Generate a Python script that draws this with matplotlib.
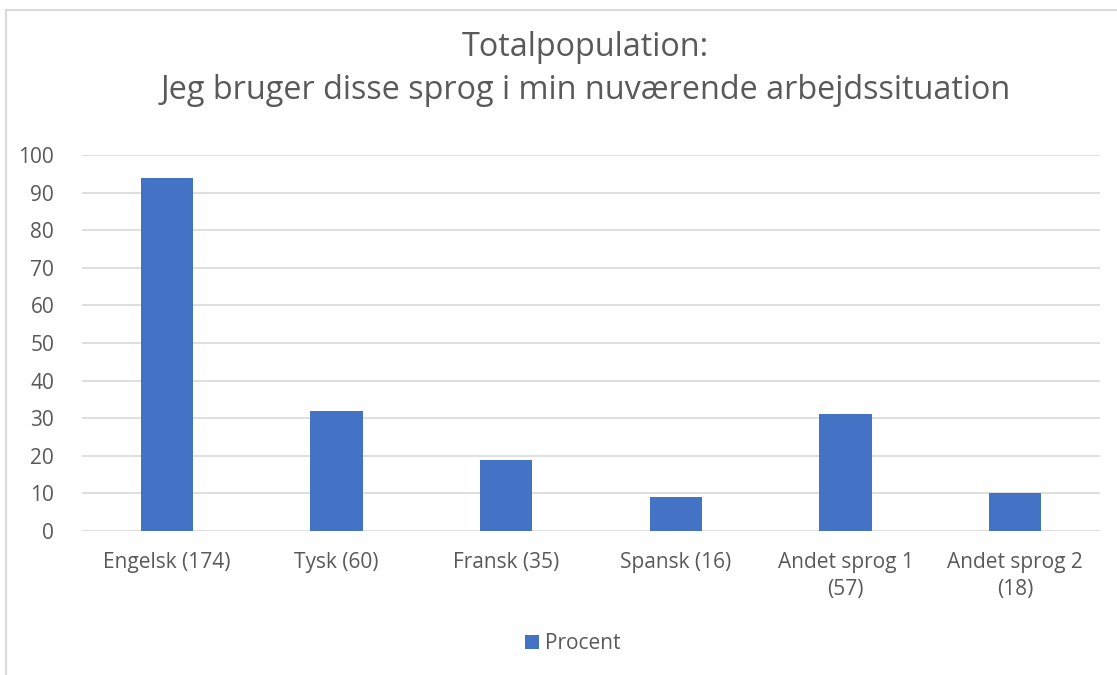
import matplotlib.pyplot as plt
from matplotlib.patches import Rectangle

plt.rcParams['font.family'] = ['Open Sans', 'DejaVu Sans']

# data
categories = ['Engelsk (174)', 'Tysk (60)', 'Fransk (35)', 'Spansk (16)',
              'Andet sprog 1\n(57)', 'Andet sprog 2\n(18)']
procent = [94, 32, 19, 9, 31, 10]
yticks = list(range(0, 101, 10))

txt = '#595959'
grid = '#d9d9d9'

fig = plt.figure(figsize=(11.17, 6.75), dpi=100)
ax = fig.add_axes([0.0734, 0.2133, 0.9114, 0.5571])

x = range(len(categories))
ax.bar(x, procent, width=0.31, color='#4472C4', label='Procent', zorder=3)

ax.set_xlim(-0.5, len(categories) - 0.5)
ax.set_ylim(0, 100)
ax.set_yticks(yticks)
ax.set_yticklabels([str(t) for t in yticks])
ax.set_xticks(list(x))
ax.set_xticklabels(categories, linespacing=1.4)
ax.grid(axis='y', color=grid, lw=1.2, zorder=0)
ax.tick_params(axis='both', length=0, labelsize=15, colors=txt)
ax.tick_params(axis='x', pad=15)
ax.tick_params(axis='y', pad=20)
for s in ax.spines.values():
    s.set_visible(False)

fig.text(0.524, 0.930, 'Totalpopulation:', ha='center', va='center', fontsize=23.3, color=txt)
fig.text(0.524, 0.866, 'Jeg bruger disse sprog i min nuværende arbejdssituation',
         ha='center', va='center', fontsize=23.3, color=txt)

leg = fig.legend(loc='center', bbox_to_anchor=(0.513, 0.046), frameon=False,
                 fontsize=15, handlelength=0.65, handleheight=0.65, handletextpad=0.3)
for t in leg.get_texts():
    t.set_color(txt)

# chart border
fig.patches.append(Rectangle((6 / 1117, -0.1), 1.2, (675 - 10) / 675 + 0.1,
                             transform=fig.transFigure, fill=False, ec=grid, lw=1.5))

fig.savefig('out.png', dpi=100)
